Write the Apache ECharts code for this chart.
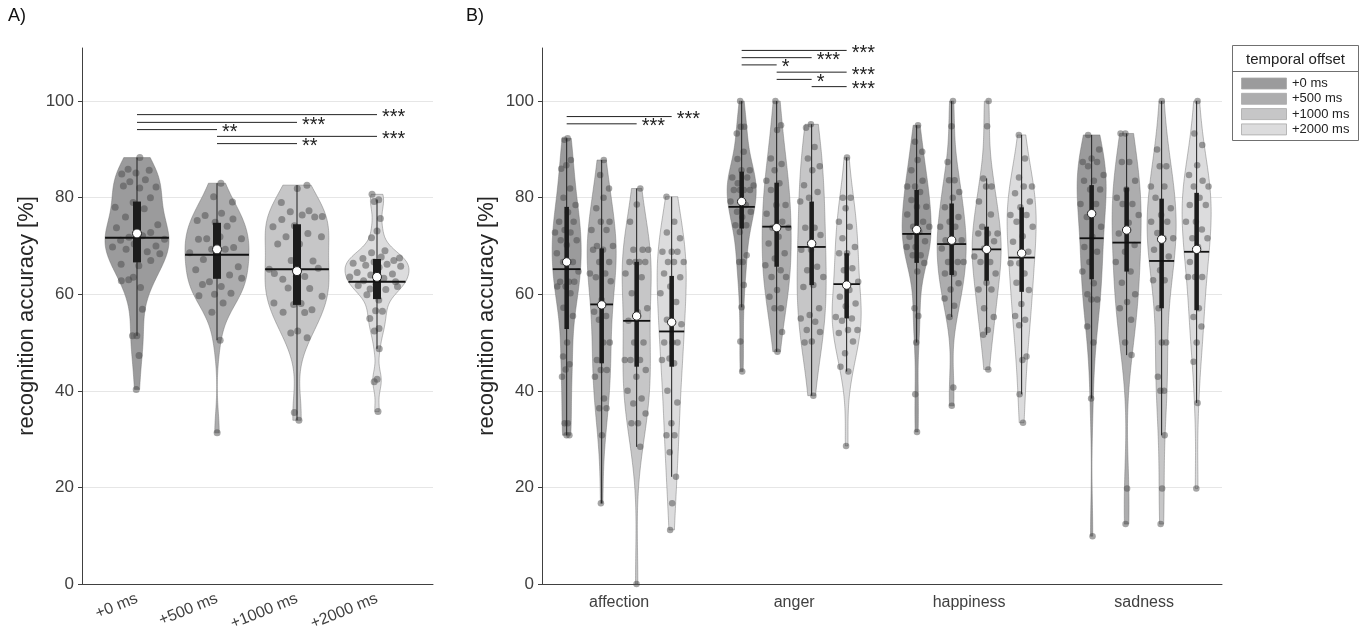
<!DOCTYPE html>
<html><head><meta charset="utf-8">
<script src="https://cdn.jsdelivr.net/npm/echarts@6/dist/echarts.min.js"></script>
<style>html,body{margin:0;padding:0;background:#fff}#c{width:1362px;height:638px}</style>
</head><body><div id="c"></div>
<script>
// ---------- labels ----------
const offsets = ['+0 ms', '+500 ms', '+1000 ms', '+2000 ms'];
const emotions = ['affection', 'anger', 'happiness', 'sadness'];
const yTicks = [0, 20, 40, 60, 80, 100];
const offsetColors = ['#9b9b9c', '#adadae', '#c6c6c7', '#dcdcdd'];

// ---------- Panel A : overall recognition accuracy per offset ----------
const A_0ms = [88.3,85.9,85.7,85.1,84.9,83.7,83.3,82.2,82.0,82.4,80.0,79.0,78.0,77.7,76.0,74.4,73.3,73.8,72.8,71.8,71.4,72.1,71.2,70.0,70.4,69.8,68.8,69.3,68.4,65.9,66.2,67.0,63.5,62.8,61.4,63.0,56.9,51.4,51.4,47.3,40.3];
const A_500ms = [83.0,80.2,79.1,76.8,76.3,75.6,74.9,75.3,74.1,71.5,71.5,71.9,71.4,69.7,69.3,68.6,69.3,67.2,65.7,66.4,65.1,64.0,62.6,63.3,61.6,62.0,60.2,60.0,59.7,58.2,56.3,50.5,31.3];
const A_1000ms = [82.6,81.9,79.0,77.3,77.1,76.1,76.4,75.5,76.0,74.2,74.0,72.6,71.9,71.9,70.4,70.4,66.9,67.0,65.2,63.7,63.1,65.4,63.7,64.3,61.2,61.3,59.6,58.1,56.3,56.8,57.9,58.2,56.2,52.0,51.0,52.4,35.5,33.9];
const A_2000ms = [80.7,79.6,79.2,75.7,73.1,71.7,69.0,68.6,67.5,67.7,67.4,67.0,66.7,66.4,66.2,66.0,65.8,65.6,64.5,64.2,64.0,63.6,63.3,62.8,62.6,62.1,61.8,61.0,61.1,61.6,58.8,59.9,56.5,56.6,55.0,52.9,52.4,48.7,42.4,41.9,35.7];
const A_q1 = [66.6, 63.2, 57.8, 59.0];
const A_q3 = [79.2, 74.8, 74.5, 67.3];
const A_median = [72.6, 69.3, 64.8, 63.6];
const A_mean = [71.7, 68.2, 65.2, 62.6];
// significance: [from offset idx, to offset idx, label, y]
const A_sig = [[0,3,'***',97.2],[0,2,'***',95.6],[0,1,'**',94.1],[1,3,'***',92.7],[1,2,'**',91.2]];

// ---------- Panel B : per emotion, per offset ----------
const B_affection = [
  [92.3,92.0,87.8,86.7,86.0,81.9,80.0,78.5,77.0,75.0,75.0,73.3,72.8,72.8,71.2,71.2,70.2,68.5,66.7,66.7,64.7,62.6,62.6,62.6,61.6,61.6,60.2,57.2,55.5,50.0,47.1,45.5,44.4,42.9,33.3,33.3,30.8,30.8],
  [87.8,84.7,81.9,80.0,77.8,75.0,75.0,73.3,73.3,70.0,70.0,69.2,69.2,66.7,66.7,64.3,64.3,63.5,62.7,58.8,56.4,55.5,54.7,50.0,50.0,46.4,44.3,44.3,42.9,38.4,36.4,36.4,30.8,16.7],
  [81.9,78.6,75.0,69.2,69.2,69.2,66.7,66.7,66.7,66.7,64.3,63.5,60.2,57.1,56.3,54.5,50.0,50.0,46.4,46.4,46.4,44.3,42.9,40.0,38.4,37.4,35.3,33.3,33.3,28.4,0],
  [80.2,75.0,72.8,71.6,68.8,68.8,68.8,66.7,66.7,66.7,64.3,63.5,61.6,60.2,58.4,54.7,53.8,50.0,50.0,50.0,46.7,46.4,45.7,40.0,37.6,33.3,30.8,30.8,27.3,22.2,16.7,11.2]
];
const B_anger = [
  [100,94.7,94.7,93.3,89.5,88.0,85.7,85.7,84.2,84.2,83.0,82.5,81.6,81.6,81.6,81.6,79.2,78.5,77.1,77.1,76.0,74.3,74.3,72.9,68.1,66.7,66.7,61.9,57.3,50.2,44.0],
  [100,95.0,94.0,88.1,87.0,85.7,83.5,83.0,81.6,78.5,78.5,76.7,75.0,73.8,73.8,71.9,70.5,68.5,67.4,66.0,65.0,63.6,63.6,60.9,59.5,57.1,57.1,52.2,48.1],
  [95.2,94.5,90.5,88.1,86.5,85.7,82.6,81.2,80.0,79.2,73.8,73.8,72.3,69.2,69.2,65.7,65.0,63.6,61.9,61.5,57.1,55.7,55.0,54.3,52.6,52.2,50.2,50.0,39.0],
  [88.3,80.0,80.0,77.8,75.0,74.0,71.6,69.8,68.5,68.5,65.4,65.0,62.6,60.9,59.5,58.1,57.5,55.3,55.0,54.5,52.6,52.6,52.0,50.2,47.8,45.0,44.0,28.6]
];
const B_happiness = [
  [95.0,91.6,89.5,87.8,85.7,83.5,82.3,82.3,81.2,79.5,78.1,78.1,76.5,75.0,74.0,74.0,72.9,71.9,71.0,69.8,69.8,68.1,68.1,66.5,64.7,57.1,55.5,50.0,39.3,31.5],
  [100,94.8,87.4,83.6,83.6,81.2,80.0,78.0,76.0,75.0,74.0,74.0,71.2,71.2,70.5,69.5,66.7,66.7,66.7,64.3,64.3,62.3,61.0,59.1,57.6,55.3,40.7,36.9],
  [100,94.8,84.0,82.3,82.3,79.2,76.5,74.0,72.6,72.6,72.6,71.0,69.5,67.8,66.7,66.7,64.3,62.4,61.0,61.0,57.1,55.3,52.6,51.6,44.4],
  [93.0,88.1,84.2,82.3,82.3,80.9,79.2,78.0,76.4,76.4,75.0,74.0,72.0,70.9,68.8,66.4,66.4,64.3,62.4,60.9,58.0,55.5,54.7,53.6,47.1,46.4,39.3,33.4]
];
const B_sadness = [
  [93.0,90.0,88.1,87.4,87.4,86.5,84.7,83.5,83.5,81.7,81.7,78.7,78.7,76.0,74.0,71.9,69.8,68.8,66.7,64.7,62.3,60.0,58.9,58.9,53.3,50.0,38.4,9.9],
  [93.3,93.3,87.4,87.4,83.5,81.7,80.0,78.7,78.7,76.4,74.8,72.6,70.2,68.8,66.7,64.7,62.4,60.0,58.4,57.1,54.7,50.0,47.4,19.8,12.4],
  [100,90.0,86.5,86.5,82.3,82.3,80.0,77.8,76.4,75.0,75.0,72.7,71.6,71.6,69.2,67.8,65.0,62.9,62.9,57.1,50.0,50.0,42.9,40.0,40.0,30.8,19.8,12.4],
  [100,93.3,90.9,86.7,84.7,83.5,82.3,82.3,80.0,78.5,78.5,75.0,75.0,73.4,71.6,71.6,69.8,66.7,63.6,63.6,63.6,57.1,55.3,53.3,50.0,46.0,37.5,19.8]
];
// summary stats, emotion-major order (affection x4, anger x4, happiness x4, sadness x4)
const B_q1 = [52.8,45.7,45.0,45.0, 73.6,65.7,61.9,55.0, 66.5,64.0,62.8,60.5, 63.1,64.7,57.1,56.7];
const B_q3 = [78.1,69.5,66.7,63.8, 85.4,83.1,79.2,68.5, 81.6,78.8,74.0,78.0, 82.6,82.1,79.8,81.0];
const B_median = [66.7,57.8,55.5,54.2, 79.2,73.8,70.5,61.9, 73.4,71.2,69.3,68.5, 76.7,73.3,71.4,69.3];
const B_mean = [65.2,57.9,54.5,52.3, 78.1,74.0,69.8,62.1, 72.5,70.4,69.3,67.6, 71.6,70.7,66.9,68.8];
// significance: [emotion idx, from offset, to offset, label, y]
const B_sig = [[0,0,3,'***',96.8],[0,0,2,'***',95.3],
  [1,0,3,'***',110.5],[1,0,2,'***',109.0],[1,0,1,'*',107.5],[1,1,3,'***',106.0],[1,1,2,'*',104.5],[1,2,3,'***',103.0]];

// ---------- helpers ----------
const FONT = '"Liberation Sans", Arial, Helvetica, sans-serif';
function quant(s, p){ const i=(s.length-1)*p, lo=Math.floor(i), hi=Math.ceil(i); return s[lo]+(s[hi]-s[lo])*(i-lo); }
function density(vals){
  const n = vals.length, s = [...vals].sort((a,b)=>a-b);
  const med = quant(s, 0.5);
  const mad = quant(vals.map(v=>Math.abs(v-med)).sort((a,b)=>a-b), 0.5);
  let sig = mad/0.6745;
  if (!(sig > 0)) sig = 5;
  const h = 0.85*sig*Math.pow(4/(3*n), 0.2);
  const lo = s[0], hi = s[n-1], N = 140;
  const ys = [], ds = [];
  for (let k=0;k<=N;k++){
    const y = lo+(hi-lo)*k/N; let d = 0;
    for (const v of vals){ const z=(y-v)/h; d += Math.exp(-0.5*z*z); }
    ys.push(y); ds.push(d);
  }
  const m = Math.max(...ds);
  const dn = ds.map(d=>d/m);
  return { ys, ds: dn, at(y){
    if (y<=lo) return dn[0]; if (y>=hi) return dn[N];
    const t=(y-lo)/(hi-lo)*N, i=Math.floor(t), f=t-i; return dn[i]*(1-f)+dn[Math.min(i+1,N)]*f; } };
}
function buildViolins(sets, positions, halfW, q1, q3, med, mean){
  return sets.map((vals,i)=>{
    const s = [...vals].sort((a,b)=>a-b);
    const iqr = q3[i]-q1[i];
    const inF = s.filter(v=>v>=q1[i]-1.5*iqr && v<=q3[i]+1.5*iqr);
    return { pos: positions[i], vals, d: density(vals), halfW, q1:q1[i], q3:q3[i], med:med[i], mean:mean[i],
      wLo: Math.min(inF[0], q1[i]), wHi: Math.max(inF[inF.length-1], q3[i]), color: offsetColors[i%4] };
  });
}
function violinSeries(vs, ax){
  return { type:'custom', xAxisIndex:ax, yAxisIndex:ax, silent:true, z:2,
    data: vs.map((v,i)=>[v.pos, v.med, i]),
    renderItem(params, api){
      const v = vs[params.dataIndex], pts = [], n = v.d.ys.length;
      for (let k=0;k<n;k++) pts.push(api.coord([v.pos + v.halfW*v.d.ds[k], v.d.ys[k]]));
      for (let k=n-1;k>=0;k--) pts.push(api.coord([v.pos - v.halfW*v.d.ds[k], v.d.ys[k]]));
      return { type:'polygon', shape:{points:pts}, style:{fill:v.color, stroke:'rgba(105,105,105,0.55)', lineWidth:0.8} };
    } };
}
function pointSeries(vs, ax, size){
  const data = [];
  vs.forEach((v,vi)=>{ v.vals.forEach((y,j)=>{
    const u = (((j+1)*0.6180339887 + vi*0.137) % 1)*2 - 1;
    data.push([v.pos + 0.9*u*v.halfW*v.d.at(y), y]);
  }); });
  return { type:'scatter', xAxisIndex:ax, yAxisIndex:ax, silent:true, z:3, symbolSize:size,
    itemStyle:{color:'rgba(72,72,72,0.62)'}, data };
}
function boxSeries(vs, ax, boxW, meanLW, dotR){
  return { type:'custom', xAxisIndex:ax, yAxisIndex:ax, silent:true, z:4,
    data: vs.map((v,i)=>[v.pos, v.med, i]),
    renderItem(params, api){
      const v = vs[params.dataIndex];
      const top = api.coord([v.pos, v.wHi]), bot = api.coord([v.pos, v.wLo]);
      const b1 = api.coord([v.pos-boxW/2, v.q3]), b2 = api.coord([v.pos+boxW/2, v.q1]);
      const mw = v.halfW*v.d.at(v.mean);
      const m1 = api.coord([v.pos-mw, v.mean]), m2 = api.coord([v.pos+mw, v.mean]);
      const c = api.coord([v.pos, v.med]);
      return { type:'group', children:[
        { type:'line', shape:{x1:top[0],y1:top[1],x2:bot[0],y2:bot[1]}, style:{stroke:'#1e1e1e', lineWidth:1} },
        { type:'rect', shape:{x:b1[0], y:b1[1], width:b2[0]-b1[0], height:b2[1]-b1[1]}, style:{fill:'#1c1c1c'} },
        { type:'line', shape:{x1:m1[0],y1:m1[1],x2:m2[0],y2:m2[1]}, style:{stroke:'#111', lineWidth:meanLW} },
        { type:'circle', shape:{cx:c[0], cy:c[1], r:dotR}, style:{fill:'#fff', stroke:'#222', lineWidth:1} }
      ] };
    } };
}
function sigSeries(items, ax){
  return { type:'custom', xAxisIndex:ax, yAxisIndex:ax, silent:true, z:5, clip:false,
    data: items.map((s,i)=>[s.x1, s.y, i]),
    renderItem(params, api){
      const s = items[params.dataIndex];
      const p1 = api.coord([s.x1, s.y]), p2 = api.coord([s.x2, s.y]);
      return { type:'group', children:[
        { type:'line', shape:{x1:p1[0],y1:p1[1],x2:p2[0],y2:p2[1]}, style:{stroke:'#222', lineWidth:1} },
        { type:'text', style:{x:p2[0]+5, y:p2[1]+3, text:s.label, fill:'#222', font:'20px '+FONT, align:'left', verticalAlign:'middle'} }
      ] };
    } };
}

// ---------- build ----------
const A_sets = [A_0ms, A_500ms, A_1000ms, A_2000ms];
const A_pos = [1,2,3,4];
const violA = buildViolins(A_sets, A_pos, 0.4, A_q1, A_q3, A_median, A_mean);

const B_sets = [...B_affection, ...B_anger, ...B_happiness, ...B_sadness];
const B_pos = B_sets.map((_,i)=> Math.floor(i/4)+1 + ((i%4)-1.5)*0.2);
const violB = buildViolins(B_sets, B_pos, 0.083, B_q1, B_q3, B_median, B_mean);

const sigA = A_sig.map(s=>({x1:A_pos[s[0]], x2:A_pos[s[1]], label:s[2], y:s[3]}));
const sigB = B_sig.map(s=>({x1:s[0]+1+(s[1]-1.5)*0.2, x2:s[0]+1+(s[2]-1.5)*0.2, label:s[3], y:s[4]}));

function yAxisCfg(gi){
  return { type:'value', gridIndex:gi, min:0, max:111, interval:20,
    name:'recognition accuracy [%]', nameLocation:'middle', nameGap:44,
    nameTextStyle:{fontSize:22, color:'#262626', fontFamily:FONT},
    axisLine:{show:true, lineStyle:{color:'#404040'}},
    axisTick:{show:true, length:4, customValues:yTicks, lineStyle:{color:'#404040'}},
    axisLabel:{customValues:yTicks, fontSize:17, color:'#404040', margin:8, fontFamily:FONT},
    splitLine:{show:true, lineStyle:{color:'#e6e6e6'}} };
}

const legendGraphics = [
  { type:'rect', shape:{x:1232.5, y:45.5, width:126, height:95}, style:{fill:'#fff', stroke:'#707070', lineWidth:1} },
  { type:'text', style:{x:1295.5, y:60, text:'temporal offset', font:'15px '+FONT, fill:'#222', align:'center', verticalAlign:'middle'} },
  { type:'line', shape:{x1:1232.5, y1:71.5, x2:1358.5, y2:71.5}, style:{stroke:'#707070', lineWidth:1} }
];
offsets.forEach((o,i)=>{
  const cy = 83.5 + i*15.3;
  legendGraphics.push({ type:'rect', shape:{x:1241.5, y:cy-5.5, width:45, height:11}, style:{fill:offsetColors[i], stroke:'#a8a8a8', lineWidth:0.8} });
  legendGraphics.push({ type:'text', style:{x:1292, y:cy, text:o, font:'13px '+FONT, fill:'#222', verticalAlign:'middle'} });
});

const chart = echarts.init(document.getElementById('c'), null, {renderer:'canvas'});
chart.setOption({
  animation:false,
  backgroundColor:'#fff',
  textStyle:{fontFamily:FONT},
  grid:[ {left:82, right:929, top:48, bottom:54}, {left:542, right:140, top:48, bottom:54} ],
  xAxis:[
    { type:'value', gridIndex:0, min:0.3125, max:4.7,
      axisLine:{show:true, onZero:false, lineStyle:{color:'#404040'}}, axisTick:{show:false}, splitLine:{show:false},
      axisLabel:{customValues:A_pos, formatter:v=>offsets[Math.round(v)-1], rotate:22, fontSize:16, color:'#404040', margin:14, fontFamily:FONT} },
    { type:'value', gridIndex:1, min:0.559, max:4.445,
      axisLine:{show:true, onZero:false, lineStyle:{color:'#404040'}}, axisTick:{show:false}, splitLine:{show:false},
      axisLabel:{customValues:[1,2,3,4], formatter:v=>emotions[Math.round(v)-1], fontSize:16, color:'#404040', margin:11, fontFamily:FONT} }
  ],
  yAxis:[ yAxisCfg(0), yAxisCfg(1) ],
  graphic:[
    { type:'text', style:{x:8, y:16, text:'A)', font:'18px '+FONT, fill:'#111', verticalAlign:'middle'} },
    { type:'text', style:{x:466, y:16, text:'B)', font:'18px '+FONT, fill:'#111', verticalAlign:'middle'} },
    ...legendGraphics
  ],
  series:[
    violinSeries(violA, 0), pointSeries(violA, 0, 7), boxSeries(violA, 0, 0.1, 2, 4.5), sigSeries(sigA, 0),
    violinSeries(violB, 1), pointSeries(violB, 1, 6.5), boxSeries(violB, 1, 0.026, 1.8, 4.2), sigSeries(sigB, 1)
  ]
});
</script></body></html>
